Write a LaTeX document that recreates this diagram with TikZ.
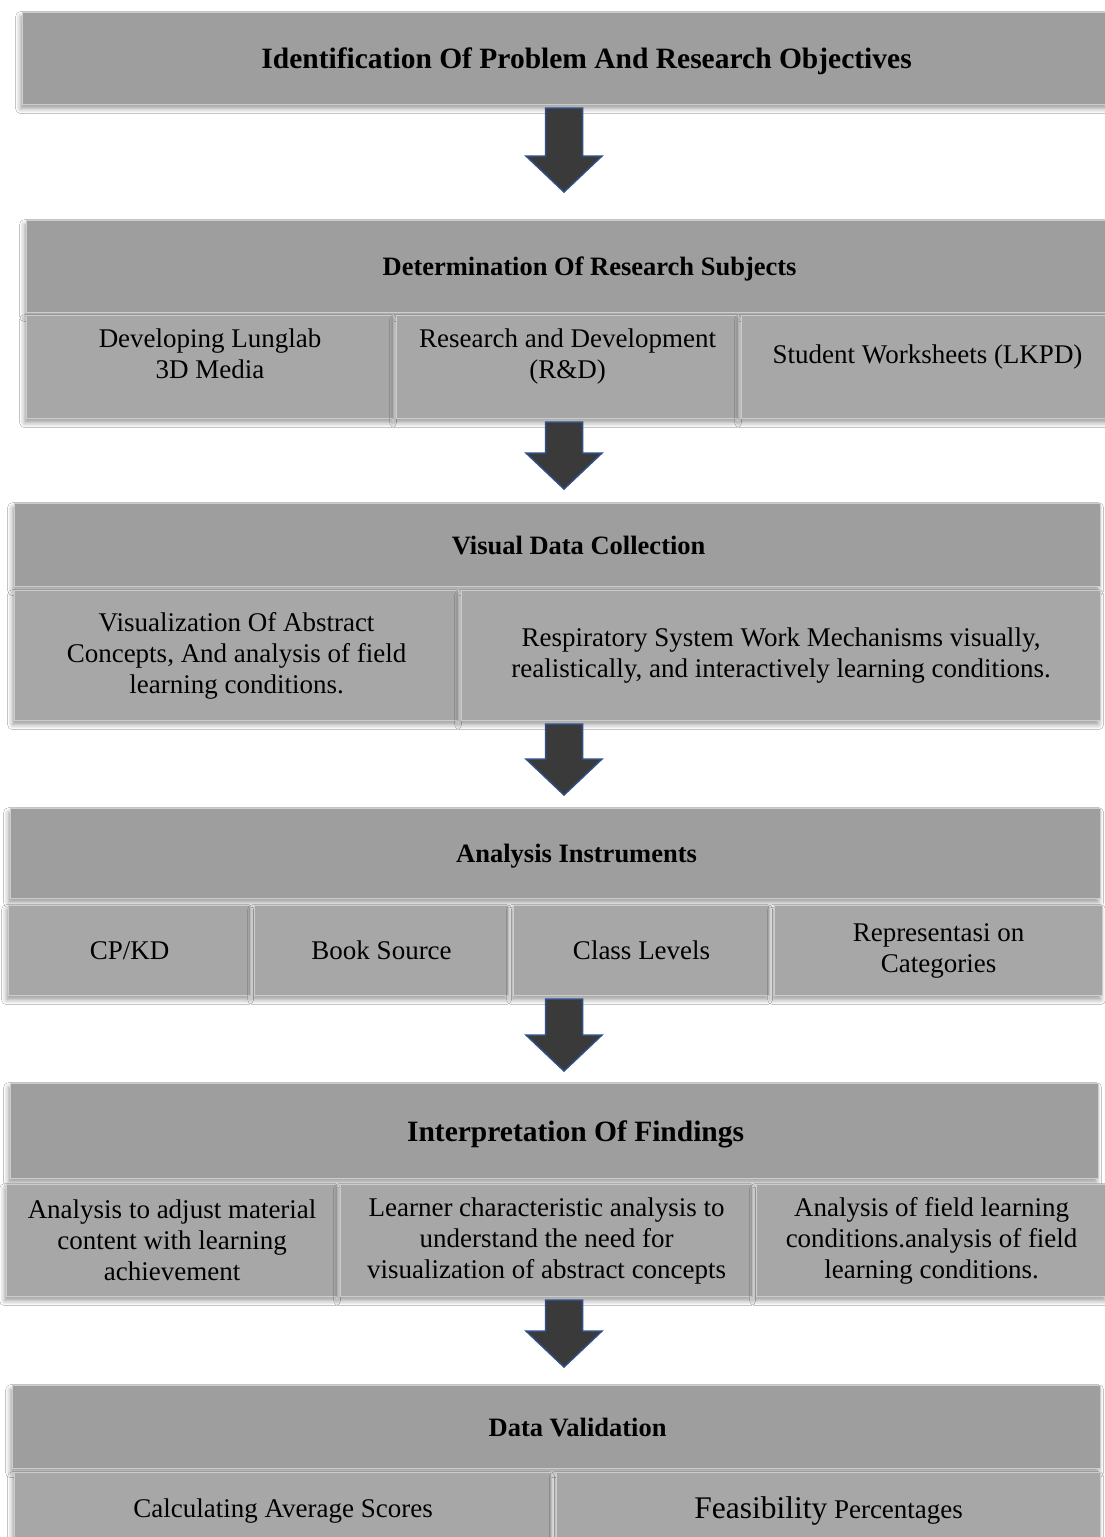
\documentclass[tikz,border=0pt]{standalone}
\usepackage{fontspec}
\setmainfont{Liberation Serif}
\usepackage{tikz}
\usetikzlibrary{calc, shadows.blur}

\definecolor{headgray}{HTML}{9E9E9E}
\definecolor{cellgray}{HTML}{A8A7A8}
\definecolor{edgegray}{HTML}{CDCDCD}
\definecolor{arrowfill}{HTML}{3A3A3A}
\definecolor{arrowedge}{HTML}{2F4F85}

\tikzset{
    boxshadow/.style={blur shadow={shadow xshift=-2pt, shadow yshift=-4pt, shadow blur radius=5pt, shadow opacity=40}},
    headbox/.style={draw=edgegray, line width=1.2pt, fill=headgray, anchor=north west, inner sep=0pt, boxshadow,
        text depth=0pt, font=\fontsize{26.5}{31}\selectfont\bfseries, execute at begin node={\hspace*{42pt}}},
    cellbox/.style={draw=edgegray, line width=1.2pt, fill=cellgray, anchor=north west, inner sep=0pt, boxshadow,
        align=center, font=\fontsize{27}{31}\selectfont},
    flowarrow/.style={fill=arrowfill, draw=arrowedge, line width=1.5pt, line join=miter}
}

% 文字上移 (第二行单元格)
\newcommand{\cellup}[1]{\raisebox{10pt}[\height][\depth]{\begin{tabular}{@{}c@{}}#1\end{tabular}}}

% 块状箭头: 起点节点, 终点节点, 箭头尖与下一框的间距
\newcommand{\flowarrow}[3]{%
    \draw[flowarrow] let \p1=(axis |- #1.south), \p2=(axis |- #2.north) in
        (\x1-18.5pt,\y1-3pt) -- (\x1+18.5pt,\y1-3pt) -- (\x1+18.5pt,\y2+#3pt+36pt)
        -- (\x1+38pt,\y2+#3pt+36pt) -- (\x1,\y2+#3pt)
        -- (\x1-38pt,\y2+#3pt+36pt) -- (\x1-18.5pt,\y2+#3pt+36pt) -- cycle;}

\begin{document}
\begin{tikzpicture}[x=1pt, y=-1pt]
    \useasboundingbox[fill=white] (0,0) rectangle (1105,1537);
    \coordinate (axis) at (564,0);

    % --- 1 ---
    \node[headbox, minimum width=1086pt, minimum height=92pt, font=\fontsize{29.5}{34}\selectfont\bfseries] (ident) at (22,12) {Identification Of Problem And Research Objectives};

    % --- 2 ---
    \node[headbox, minimum width=1084pt, minimum height=92pt] (subj) at (26,220) {Determination Of Research Subjects};
    \node[cellbox, minimum width=367pt, minimum height=103pt] (subjA) at (26,315) {\cellup{Developing Lunglab\\3D Media}};
    \node[cellbox, minimum width=342pt, minimum height=103pt] (subjB) at (396,315) {\cellup{Research and Development\\(R\&D)}};
    \node[cellbox, minimum width=372pt, minimum height=103pt] (subjC) at (741,315) {\cellup{Student Worksheets (LKPD)}};

    % --- 3 ---
    \node[headbox, minimum width=1086pt, minimum height=83pt] (visual) at (14,503) {Visual Data Collection};
    \node[cellbox, minimum width=444pt, minimum height=130pt] (visualA) at (14,590) {Visualization Of Abstract\\Concepts, And analysis of field\\learning conditions.};
    \node[cellbox, minimum width=639pt, minimum height=130pt] (visualB) at (461,590) {Respiratory System Work Mechanisms visually,\\realistically, and interactively learning conditions.};

    % --- 4 ---
    \node[headbox, minimum width=1090pt, minimum height=90pt] (instr) at (10,808) {Analysis Instruments};
    \node[cellbox, minimum width=242pt, minimum height=90pt] (instrA) at (8,905) {CP/KD};
    \node[cellbox, minimum width=254pt, minimum height=90pt] (instrB) at (254,905) {Book Source};
    \node[cellbox, minimum width=256pt, minimum height=90pt] (instrC) at (513,905) {Class Levels};
    \node[cellbox, minimum width=328pt, minimum height=90pt] (instrD) at (774,905) {Representasi on\\Categories};

    % --- 5 ---
    \node[headbox, minimum width=1088pt, minimum height=95pt, font=\fontsize{29.5}{34}\selectfont\bfseries] (interp) at (10,1083) {Interpretation Of Findings};
    \node[cellbox, minimum width=331pt, minimum height=112pt] (interpA) at (6,1184) {Analysis to adjust material\\content with learning\\achievement};
    \node[cellbox, minimum width=412pt, minimum height=112pt] (interpB) at (340,1184) {Learner characteristic analysis to\\understand the need for\\visualization of abstract concepts};
    \node[cellbox, minimum width=350pt, minimum height=112pt] (interpC) at (756,1184) {Analysis of field learning\\conditions.analysis of field\\learning conditions.};

    % --- 6 ---
    \node[headbox, minimum width=1088pt, minimum height=83pt] (valid) at (12,1385) {Data Validation};
    \node[cellbox, minimum width=537pt, minimum height=76pt] (validA) at (14,1472) {Calculating Average Scores};
    \node[cellbox, minimum width=544pt, minimum height=76pt] (validB) at (556,1472) {{\fontsize{31.5}{36}\selectfont Feasibility} Percentages};

    % 箭头
    \flowarrow{ident}{subj}{28}
    \flowarrow{subjB}{visual}{14}
    \flowarrow{visualB}{instr}{13}
    \flowarrow{instrC}{interp}{12}
    \flowarrow{interpB}{valid}{18}
\end{tikzpicture}
\end{document}
